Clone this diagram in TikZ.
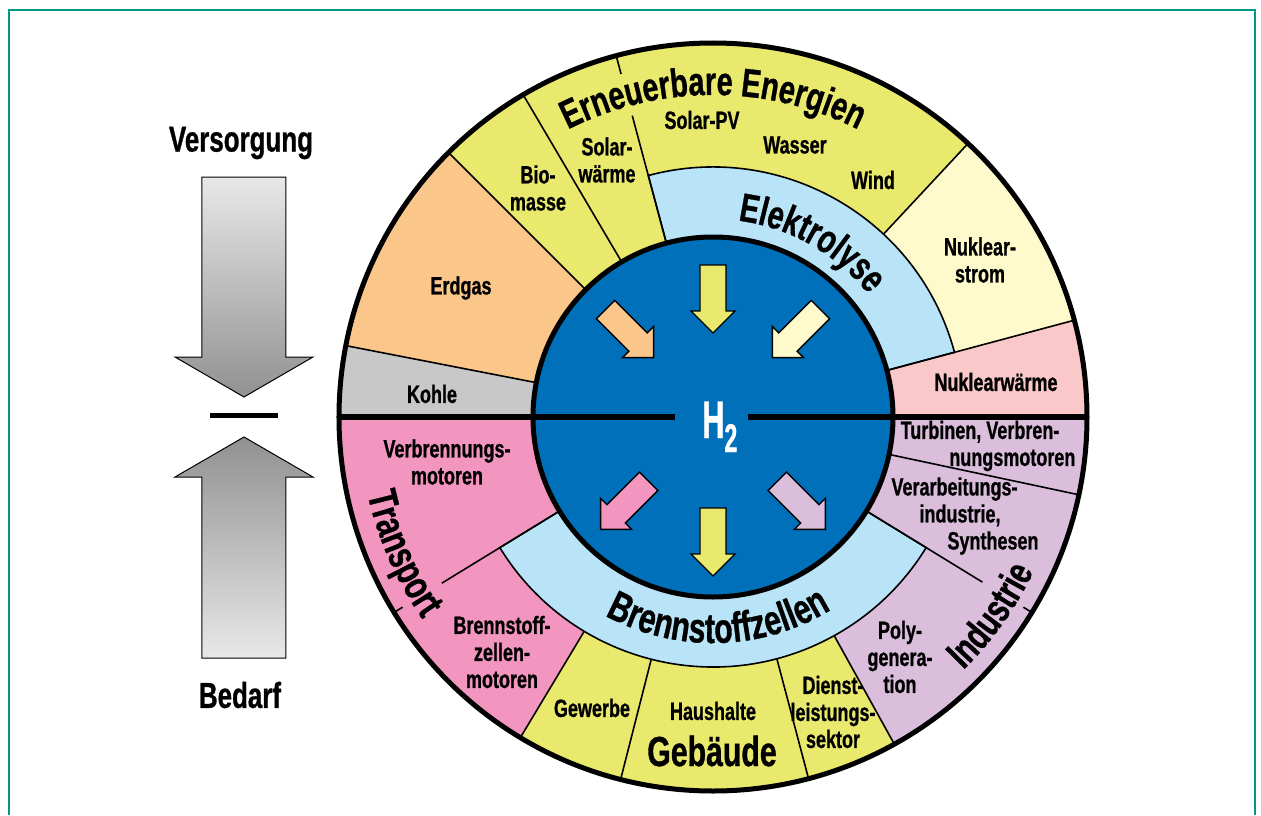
\documentclass[tikz,border=0pt]{standalone}
\usepackage{fontspec}
\newfontfamily\cond[FakeStretch=0.72,FakeBold=0.8]{Liberation Sans}
\newfontfamily\condH[FakeStretch=0.58,FakeBold=0.8]{Liberation Sans}
\usetikzlibrary{decorations.text}

\definecolor{erneuerbar}{RGB}{233,233,110}
\definecolor{elektro}{RGB}{185,228,248}
\definecolor{hblue}{RGB}{0,112,186}
\definecolor{erdgas}{RGB}{250,198,138}
\definecolor{kohle}{RGB}{200,200,200}
\definecolor{nukstrom}{RGB}{254,250,204}
\definecolor{nukwaerme}{RGB}{250,200,200}
\definecolor{transport}{RGB}{242,150,192}
\definecolor{industrie}{RGB}{218,190,220}
\definecolor{rahmen}{RGB}{0,150,136}
\definecolor{grauhell}{RGB}{232,232,232}
\definecolor{graudunkel}{RGB}{145,145,145}

\newcommand\itemfont{\cond\bfseries\fontsize{25}{27}\selectfont}
\newcommand\titlefont{\cond\bfseries\fontsize{40}{40}\selectfont}

\begin{document}
\begin{tikzpicture}[x=1pt,y=1pt,
  sectorline/.style={line width=1.6pt},
  blockarrow/.style={draw=black,line width=1.4pt,line join=miter},
  grayarrow/.style={draw=black,line width=1pt},
  item/.style={font=\itemfont,align=center,inner sep=0pt},
  ringtitle/.style={decorate,decoration={text along path,text align=center,text={|\titlefont|#1}}}]
\useasboundingbox (-713,-398) rectangle (548,417);
\draw[rahmen,line width=2pt] (-704,-398) -- (-704,407) -- (542,407) -- (542,-398);

\def\Rout{374}
\def\Rmid{250}
\def\Rin{180}

% sectors
\foreach \a/\b/\c in {0/15/nukwaerme,15/47/nukstrom,47/135/erneuerbar,135/169/erdgas,169/180/kohle,180/239/transport,239/299/erneuerbar,299/360/industrie}
  \fill[\c] (0,0) -- (\a:\Rout) arc[start angle=\a,end angle=\b,radius=\Rout] -- cycle;
\foreach \a/\b in {15/105,211.5/328.5}
  \filldraw[fill=elektro,sectorline] (0,0) -- (\a:\Rmid) arc[start angle=\a,end angle=\b,radius=\Rmid] -- cycle;
\foreach \a/\p/\q in {15/\Rin/\Rout,47/\Rmid/\Rout,105/\Rin/312,105/355/\Rout,120.5/\Rin/\Rout,135/\Rin/\Rout,169/\Rin/\Rout,211.5/\Rin/318,211.5/364/\Rout,239/\Rmid/\Rout,255.7/\Rmid/\Rout,284.8/\Rmid/\Rout,299/\Rmid/\Rout,328.5/\Rin/316,328.5/364/\Rout,348/\Rin/\Rout}
  \draw[sectorline] (\a:\p) -- (\a:\q);

\filldraw[fill=hblue,line width=5pt] (0,0) circle[radius=\Rin];
\draw[line width=5pt] (0,0) circle[radius=\Rout];

% H2 in the middle
\node[text=white,inner sep=0pt,anchor=base west] (h2) at (-11,-21)
  {\condH\bfseries\fontsize{53}{53}\selectfont H\raisebox{-14pt}{\fontsize{40}{40}\selectfont 2}};
\coordinate (h2l) at (-38,0);
\coordinate (h2r) at (35,0);
\draw[line width=6pt] (180:\Rout) -- (h2l);
\draw[line width=6pt] (h2r) -- (0:\Rout);

\foreach \ang/\c in {135/erdgas,90/erneuerbar,45/nukstrom}
  \draw[blockarrow,fill=\c,shift={(\ang:152)},rotate=\ang+180]
    (0,-13) -- (46,-13) -- (46,-22) -- (68,0) -- (46,22) -- (46,13) -- (0,13) -- cycle;
\foreach \ang/\c in {225/transport,270/erneuerbar,315/industrie}
  \draw[blockarrow,fill=\c,shift={(\ang:91)},rotate=\ang]
    (0,-13) -- (46,-13) -- (46,-22) -- (68,0) -- (46,22) -- (46,13) -- (0,13) -- cycle;

% titles along the rings
\path[ringtitle={Erneuerbare Energien}] (150:322) arc[start angle=150,end angle=30,radius=322];
\path[ringtitle={Elektrolyse}] (121:198) arc[start angle=121,end angle=0,radius=198];
\path[ringtitle={|\cond\bfseries\fontsize{42}{42}\selectfont|Brennstoffzellen}] (211.5:226) arc[start angle=211.5,end angle=331.5,radius=226];
\path[ringtitle={|\cond\bfseries\fontsize{41}{41}\selectfont|Transport}] (163.7:354) arc[start angle=163.7,end angle=243.7,radius=354];
\path[ringtitle={Industrie}] (284.5:356) arc[start angle=284.5,end angle=364.5,radius=356];
\node[font=\cond\bfseries\fontsize{42}{42}\selectfont] (gebaeude) at (-1,-334) {Gebäude};

\node[item] (solarpv) at (-11,297) {Solar-PV};
\node[item] (wasser) at (82,272) {Wasser};
\node[item] (wind) at (160,237) {Wind};
\node[item] (solarw) at (-106,257) {Solar-\\wärme};
\node[item] (bio) at (-175,229) {Bio-\\masse};
\node[item] (erdgas) at (-252,129) {Erdgas};
\node[item] (kohle) at (-281,23) {Kohle};
\node[item] (nukstrom) at (267,157) {Nuklear-\\strom};
\node[item] (nukw) at (283,35) {Nuklearwärme};
\node[item,align=right] (turb) at (275,-29) {Turbinen, Verbren-\hspace*{16pt}\\nungsmotoren};
\node[item,align=left] (verarb) at (252,-99) {Verarbeitungs-\\\hspace*{28pt}industrie,\\\hspace*{56pt}Synthesen};
\node[item] (poly) at (187,-240) {Poly-\\genera-\\tion};
\node[item] (dienst) at (120,-295) {Dienst-\\leistungs-\\sektor};
\node[item] (haush) at (0,-294) {Haushalte};
\node[item] (gewerbe) at (-121,-291) {Gewerbe};
\node[item] (bzmot) at (-211,-235) {Brennstoff-\\zellen-\\motoren};
\node[item] (vmot) at (-266,-45) {Verbrennungs-\\motoren};

% Versorgung / Bedarf
\node[font=\cond\bfseries\fontsize{36}{36}\selectfont] (versorgung) at (-472,274) {Versorgung};
\node[font=\cond\bfseries\fontsize{36}{36}\selectfont] (bedarf) at (-473,-278) {Bedarf};
\draw[grayarrow,top color=grauhell,bottom color=graudunkel]
  (-511,240) -- (-427,240) -- (-427,60) -- (-400,60) -- (-469,20) -- (-538,60) -- (-511,60) -- cycle;
\draw[grayarrow,top color=graudunkel,bottom color=grauhell]
  (-511,-241) -- (-427,-241) -- (-427,-60) -- (-400,-60) -- (-469,-20) -- (-538,-60) -- (-511,-60) -- cycle;
\draw[line width=5pt] (-503,2) -- (-435,2);
\end{tikzpicture}
\end{document}
